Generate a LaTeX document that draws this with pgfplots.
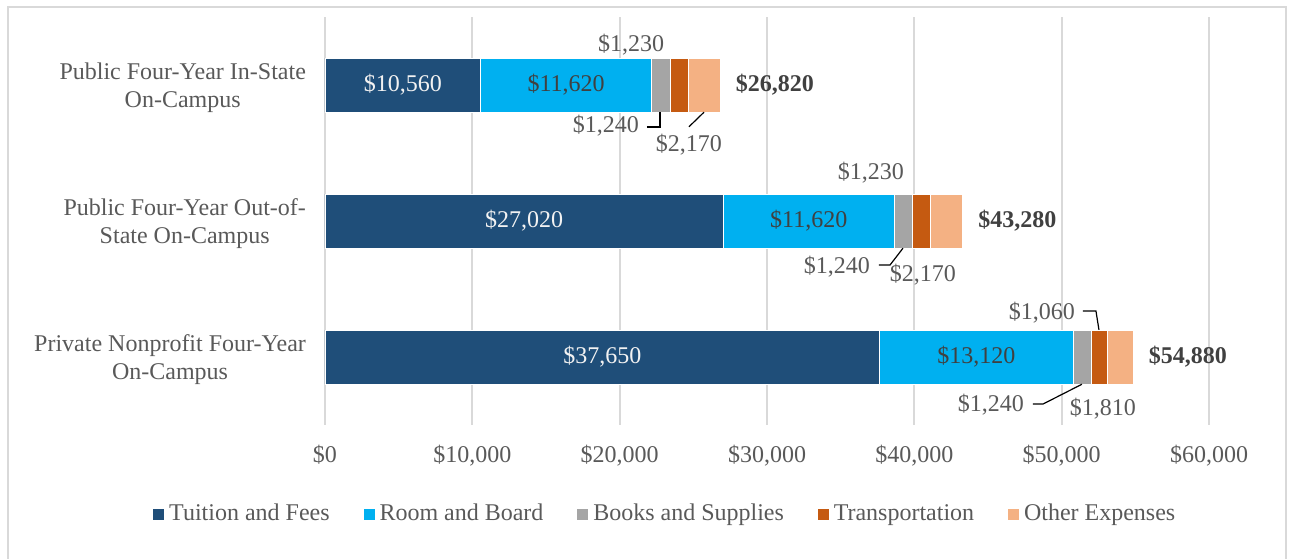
\documentclass[border=0pt]{standalone}
\usepackage{fontspec}
\setmainfont{Liberation Serif}
\usepackage{pgfplots}
\pgfplotsset{compat=1.18}
\definecolor{cTui}{HTML}{1F4E79}
\definecolor{cRoom}{HTML}{00B0F0}
\definecolor{cBook}{HTML}{A5A5A5}
\definecolor{cTran}{HTML}{C55A11}
\definecolor{cOth}{HTML}{F4B183}
\definecolor{cText}{HTML}{595959}
\definecolor{cDark}{HTML}{404040}
\definecolor{cGrid}{HTML}{D9D9D9}
\newcommand\f{\fontsize{12}{14}\selectfont}
\begin{document}
\begin{tikzpicture}[x=1pt,y=1pt]
\path[use as bounding box] (-162.5,-66.5) rectangle (482.5,212.5);
\draw[cGrid, line width=1pt] (-158.5,-80) -- (-158.5,209) -- (480.5,209) -- (480.5,-80);
\begin{axis}[
  at={(0,0)}, anchor=south west, scale only axis,
  width=442pt, height=204pt,
  xbar stacked, bar width=27pt,
  xmin=0, xmax=60000, ymin=-0.5, ymax=2.5, y dir=reverse,
  axis line style={draw=none}, tick style={draw=none},
  scaled x ticks=false,
  xmajorgrids, grid style={color=cGrid, line width=0.9pt},
  xtick={0,10000,20000,30000,40000,50000,60000},
  xticklabels={{\$0},{\$10,000},{\$20,000},{\$30,000},{\$40,000},{\$50,000},{\$60,000}},
  xticklabel style={font=\f, text=cText, yshift=-6.5pt},
  ytick={0,1,2},
  yticklabels={{Public Four-Year In-State\\On-Campus},{Public Four-Year Out-of-\\State On-Campus},{Private Nonprofit Four-Year\\On-Campus}},
  yticklabel style={font=\f, text=cText, align=center, xshift=-6pt, yshift=-1.5pt},
  clip=false,
  legend columns=5,
  legend style={at={(0.3856,-0.2181)}, anchor=center, draw=none, fill=none,
    font=\f, text=cText, /tikz/every even column/.append style={column sep=14.5pt}},
  legend image code/.code={\fill[#1] (0pt,-3pt) rectangle (6pt,3pt);},
  every axis plot/.append style={draw=white, line width=0.4pt},
  after end axis/.code={
    % inside labels
    \node[font=\f, text=white!95!black] at (axis cs:5280,0) {\$10,560};
    \node[font=\f, text=cDark] at (axis cs:16370,0) {\$11,620};
    \node[font=\f, text=white!95!black] at (axis cs:13510,1) {\$27,020};
    \node[font=\f, text=cDark] at (axis cs:32830,1) {\$11,620};
    \node[font=\f, text=white!95!black] at (axis cs:18825,2) {\$37,650};
    \node[font=\f, text=cDark] at (axis cs:44210,2) {\$13,120};
    % totals
    \node[font=\f\bfseries, text=cDark] at (axis cs:30540,0) {\$26,820};
    \node[font=\f\bfseries, text=cDark] at (axis cs:47000,1) {\$43,280};
    \node[font=\f\bfseries, text=cDark] at (axis cs:58572,2) {\$54,880};
    % bar 1
    \node[font=\f, text=cText] at (axis cs:20770,-0.294) {\$1,230};
    \node[font=\f, text=cText] at (axis cs:19070,0.301) {\$1,240};
    \node[font=\f, text=cText] at (axis cs:24705,0.441) {\$2,170};
    \draw[black, line width=0.6pt] (axis cs:21854,0.309) -- (axis cs:22736,0.309) -- (axis cs:22736,0.2);
    \draw[black, line width=0.6pt] (axis cs:24705,0.307) -- (axis cs:25723,0.2);
    % bar 2
    \node[font=\f, text=cText] at (axis cs:37057,0.647) {\$1,230};
    \node[font=\f, text=cText] at (axis cs:34750,1.338) {\$1,240};
    \node[font=\f, text=cText] at (axis cs:40586,1.397) {\$2,170};
    \draw[black, line width=0.6pt] (axis cs:37600,1.324) -- (axis cs:38347,1.324) -- (axis cs:39229,1.2);
    % bar 3
    \node[font=\f, text=cText] at (axis cs:48663,1.676) {\$1,060};
    \node[font=\f, text=cText] at (axis cs:45201,2.353) {\$1,240};
    \node[font=\f, text=cText] at (axis cs:52803,2.382) {\$1,810};
    \draw[black, line width=0.6pt] (axis cs:51445,1.662) -- (axis cs:52328,1.662) -- (axis cs:52531,1.8);
    \draw[black, line width=0.6pt] (axis cs:48052,2.346) -- (axis cs:48731,2.346) -- (axis cs:51378,2.2);
  },
]
\addplot[fill=cTui] coordinates {(10560,0) (27020,1) (37650,2)};
\addlegendentry{Tuition and Fees}
\addplot[fill=cRoom] coordinates {(11620,0) (11620,1) (13120,2)};
\addlegendentry{Room and Board}
\addplot[fill=cBook] coordinates {(1240,0) (1240,1) (1240,2)};
\addlegendentry{Books and Supplies}
\addplot[fill=cTran] coordinates {(1230,0) (1230,1) (1060,2)};
\addlegendentry{Transportation}
\addplot[fill=cOth] coordinates {(2170,0) (2170,1) (1810,2)};
\addlegendentry{Other Expenses}
\end{axis}
\end{tikzpicture}
\end{document}
